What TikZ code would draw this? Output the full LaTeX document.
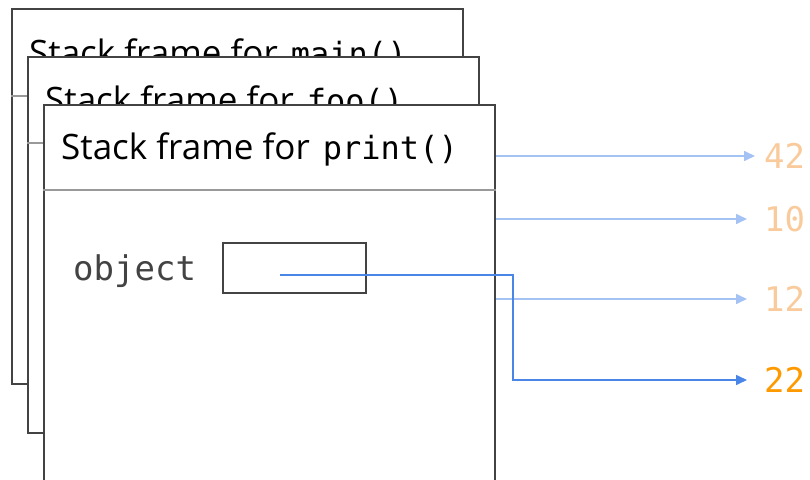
\documentclass[tikz,border=0pt]{standalone}
\usepackage{fontspec}
\setmainfont{Open Sans}
\setmonofont{DejaVu Sans Mono}
\usetikzlibrary{arrows.meta}
\definecolor{frameline}{HTML}{434343}
\definecolor{sepline}{HTML}{999999}
\definecolor{ptrlight}{HTML}{A4C2F4}
\definecolor{ptrdark}{HTML}{4A86E8}
\definecolor{vallight}{HTML}{F9CB9C}
\definecolor{valdark}{HTML}{FF9900}
\newcommand{\fn}[1]{\hspace{4pt}\texttt{\fontsize{32}{38}\selectfont #1}}
\begin{document}
\begin{tikzpicture}[x=1pt,y=-1pt,
  frame/.style={draw=frameline, line width=2pt, fill=white, rectangle,
    anchor=north west, minimum width=451pt, inner sep=0pt},
  sep/.style={draw=sepline, line width=1.6pt},
  title/.style={anchor=base west, inner sep=0pt, font=\fontsize{35}{40}\selectfont},
  codefont/.style={font=\ttfamily\fontsize{34}{40}\selectfont},
  slot/.style={draw=frameline, line width=1.6pt, rectangle, minimum width=143pt,
    minimum height=50pt, inner sep=0pt},
  varname/.style={anchor=base west, inner sep=0pt, text=frameline, codefont},
  value/.style={anchor=west, inner sep=0pt, codefont},
  ptr/.style={line width=1.6pt},
]
\useasboundingbox (0,0) rectangle (810,479);
\clip (0,0) rectangle (810,479);

% frame of main()
\node[frame, minimum height=375pt] (fmain) at (11,8) {};
\node[title] (tmain) at (29,65) {Stack frame for \fn{main()}};
\draw[sep] (fmain.west |- 0,96) -- (fmain.east |- 0,96);

% frame of foo()
\node[frame, minimum height=376pt] (ffoo) at (27,56) {};
\node[title] (tfoo) at (45,112) {Stack frame for \fn{foo()}};
\draw[sep] (ffoo.west |- 0,143) -- (ffoo.east |- 0,143);

% frame of print()
\node[frame, minimum height=420pt] (fprint) at (43,104) {};
\node[title] (tprint) at (61,159) {Stack frame for \fn{print()}};
\draw[sep] (fprint.west |- 0,190) -- (fprint.east |- 0,190);

% local variable and its slot
\node[varname] (vobj) at (73,280) {object};
\node[slot] (sobj) at (294.5,268) {};
\coordinate (pobj) at (280,275);

% values on the heap
\node[value, text=vallight] (v42) at (764,156) {42};
\node[value, text=vallight] (v10) at (764,219) {10};
\node[value, text=vallight] (v12) at (764,299) {12};
\node[value, text=valdark]  (v22) at (764,380) {22};

% references held by the frames
\draw[ptr, draw=ptrlight, -{Triangle[length=11pt,width=10pt,fill=ptrlight]}]
  (fprint.east |- v42) -- ([xshift=-9pt]v42.west);
\draw[ptr, draw=ptrlight, -{Triangle[length=11pt,width=10pt,fill=ptrlight]}]
  (fprint.east |- v10) -- ([xshift=-17pt]v10.west);
\draw[ptr, draw=ptrlight, -{Triangle[length=11pt,width=10pt,fill=ptrlight]}]
  (fprint.east |- v12) -- ([xshift=-17pt]v12.west);
\draw[ptr, draw=ptrdark, -{Triangle[length=11pt,width=10pt,fill=ptrdark]}]
  (pobj) -- (513,275) -- (513,380) -- ([xshift=-17pt]v22.west);
\end{tikzpicture}
\end{document}
